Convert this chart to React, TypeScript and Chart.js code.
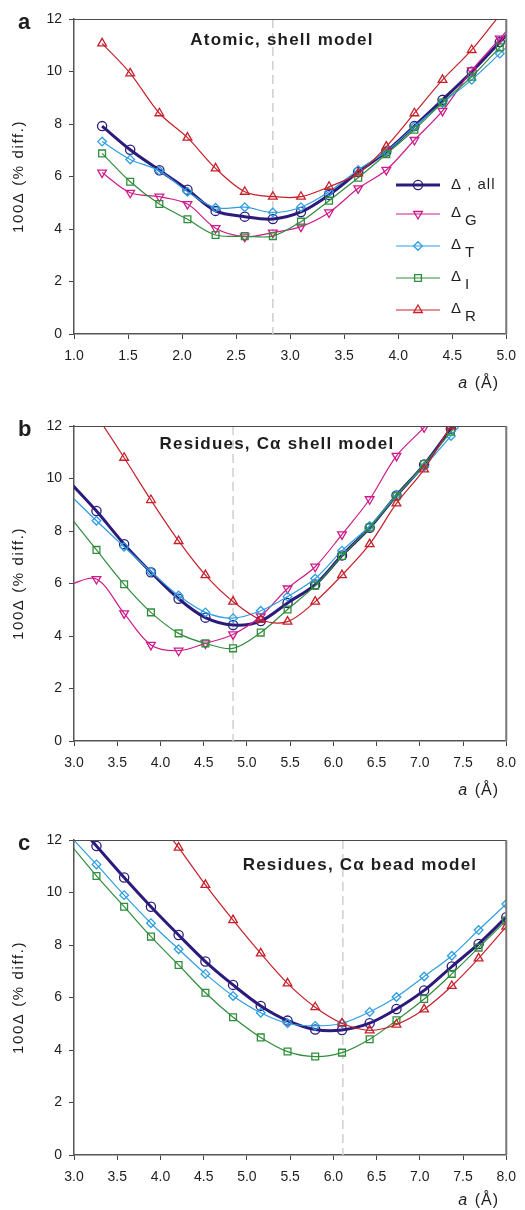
import React, { useEffect, useRef } from 'react';
import { Chart, registerables } from 'chart.js';

Chart.register(...registerables);

// ---------- Panel a: Atomic, shell model ----------
const A_X = [1.26, 1.52, 1.79, 2.05, 2.31, 2.58, 2.84, 3.10, 3.36, 3.63, 3.89, 4.15, 4.41, 4.68, 4.94, 5.20];
const A_ALL = [7.92, 7.02, 6.24, 5.50, 4.69, 4.47, 4.38, 4.65, 5.30, 6.17, 6.95, 7.92, 8.92, 9.99, 11.12, 12.3];
const A_G = [6.15, 5.38, 5.23, 4.95, 4.03, 3.71, 3.86, 4.09, 4.63, 5.55, 6.25, 7.39, 8.50, 10.04, 11.25, 12.5];
const A_T = [7.33, 6.65, 6.22, 5.42, 4.81, 4.83, 4.63, 4.83, 5.42, 6.25, 6.95, 7.90, 8.80, 9.68, 10.68, 11.7];
const A_I = [6.88, 5.80, 4.95, 4.37, 3.77, 3.73, 3.73, 4.28, 5.08, 5.95, 6.85, 7.78, 8.82, 9.80, 10.92, 12.0];
const A_R = [11.07, 9.93, 8.41, 7.48, 6.31, 5.42, 5.23, 5.23, 5.61, 6.12, 7.14, 8.41, 9.68, 10.82, 12.15, 13.5];
const A_DASH = 2.84;

// ---------- Panel b: Residues, C-alpha shell model ----------
const B_X = [2.94, 3.26, 3.58, 3.89, 4.21, 4.52, 4.84, 5.16, 5.47, 5.79, 6.10, 6.42, 6.73, 7.05, 7.36, 7.68];
const B_ALL = [9.90, 8.76, 7.50, 6.43, 5.42, 4.70, 4.42, 4.57, 5.26, 5.96, 7.07, 8.12, 9.35, 10.53, 11.90, 13.3];
const B_G = [5.95, 6.17, 4.86, 3.66, 3.44, 3.72, 4.06, 4.75, 5.81, 6.64, 7.87, 9.21, 10.86, 11.95, 13.1, 14.3];
const B_T = [9.42, 8.39, 7.40, 6.45, 5.54, 4.90, 4.68, 4.96, 5.50, 6.19, 7.25, 8.19, 9.37, 10.45, 11.62, 12.9];
const B_I = [8.60, 7.28, 5.97, 4.90, 4.10, 3.72, 3.53, 4.13, 5.01, 5.92, 7.05, 8.13, 9.33, 10.55, 11.78, 13.1];
const B_R = [13.9, 12.4, 10.79, 9.18, 7.62, 6.32, 5.31, 4.62, 4.55, 5.31, 6.32, 7.50, 9.05, 10.35, 12.0, 13.6];
const B_DASH = 4.84;

// ---------- Panel c: Residues, C-alpha bead model ----------
const C_X = [2.94, 3.26, 3.58, 3.89, 4.21, 4.52, 4.84, 5.16, 5.47, 5.79, 6.10, 6.42, 6.73, 7.05, 7.37, 7.68, 8.00];
const C_ALL = [12.97, 11.77, 10.57, 9.46, 8.38, 7.37, 6.48, 5.68, 5.12, 4.78, 4.76, 5.02, 5.56, 6.27, 7.18, 8.04, 9.06];
const C_T = [12.2, 11.07, 9.90, 8.83, 7.84, 6.90, 6.06, 5.42, 5.02, 4.92, 5.02, 5.45, 6.02, 6.80, 7.59, 8.57, 9.56];
const C_I = [11.9, 10.63, 9.46, 8.32, 7.24, 6.18, 5.25, 4.48, 3.94, 3.75, 3.90, 4.41, 5.13, 5.94, 6.90, 7.90, 8.93];
const C_R = [null, null, null, 13.1, 11.71, 10.29, 8.95, 7.68, 6.54, 5.63, 5.02, 4.75, 4.97, 5.55, 6.44, 7.49, 8.70];
const C_DASH = 6.11;

const Y_TICKS = [0, 2, 4, 6, 8, 10, 12];
const LEGEND_KEYS = ['all', 'G', 'T', 'I', 'R'];
const LEGEND_SUBS = ['', 'G', 'T', 'I', 'R'];

const FONT = '"Liberation Sans", Arial, Helvetica, sans-serif';
const TEXT = '#1e1e1e';

const STYLE: Record<string, any> = {
  all: { color: '#2b1c7c', width: 3, point: 'circle', r: 4.6, rot: 0 },
  G: { color: '#cf1a8b', width: 1.2, point: 'triangle', r: 5, rot: 180 },
  T: { color: '#2e9ee0', width: 1.2, point: 'rectRot', r: 4.3, rot: 0 },
  I: { color: '#2f8d3b', width: 1.2, point: 'rect', r: 4.8, rot: 0 },
  R: { color: '#c8202a', width: 1.2, point: 'triangle', r: 5, rot: 0 },
};

function drawMarker(ctx: CanvasRenderingContext2D, kind: string, x: number, y: number, r: number, rot: number) {
  ctx.beginPath();
  if (kind === 'circle') {
    ctx.arc(x, y, r, 0, Math.PI * 2);
  } else if (kind === 'triangle') {
    for (let k = 0; k < 3; k++) {
      const a = (rot * Math.PI) / 180 + (k * 2 * Math.PI) / 3;
      const px = x + Math.sin(a) * r;
      const py = y - Math.cos(a) * r;
      if (k === 0) ctx.moveTo(px, py);
      else ctx.lineTo(px, py);
    }
    ctx.closePath();
  } else if (kind === 'rectRot') {
    ctx.moveTo(x - r, y);
    ctx.lineTo(x, y - r);
    ctx.lineTo(x + r, y);
    ctx.lineTo(x, y + r);
    ctx.closePath();
  } else {
    const s = r * Math.SQRT1_2;
    ctx.rect(x - s, y - s, 2 * s, 2 * s);
  }
  ctx.stroke();
}

type Panel = {
  xs: number[];
  series: { key: string; ys: (number | null)[] }[];
  xMin: number;
  xMax: number;
  dash: number;
  title: string;
  letter: string;
  top: number;
  height: number;
  padTop: number;
  xAxisH: number;
  titleX: number;
  titleDy: number;
  xTitleDy: number;
  legend: boolean;
};

const PANELS: Panel[] = [
  {
    xs: A_X,
    series: [
      { key: 'R', ys: A_R },
      { key: 'I', ys: A_I },
      { key: 'T', ys: A_T },
      { key: 'G', ys: A_G },
      { key: 'all', ys: A_ALL },
    ],
    xMin: 1, xMax: 5, dash: A_DASH,
    title: 'Atomic, shell model', letter: 'a',
    top: 0, height: 400, padTop: 19, xAxisH: 66,
    titleX: 282, titleDy: 21, xTitleDy: 54, legend: true,
  },
  {
    xs: B_X,
    series: [
      { key: 'R', ys: B_R },
      { key: 'I', ys: B_I },
      { key: 'T', ys: B_T },
      { key: 'G', ys: B_G },
      { key: 'all', ys: B_ALL },
    ],
    xMin: 3, xMax: 8, dash: B_DASH,
    title: 'Residues, C\u03b1 shell model', letter: 'b',
    top: 400, height: 410, padTop: 26, xAxisH: 69,
    titleX: 277, titleDy: 18, xTitleDy: 54, legend: false,
  },
  {
    xs: C_X,
    series: [
      { key: 'R', ys: C_R },
      { key: 'I', ys: C_I },
      { key: 'T', ys: C_T },
      { key: 'all', ys: C_ALL },
    ],
    xMin: 3, xMax: 8, dash: C_DASH,
    title: 'Residues, C\u03b1 bead model', letter: 'c',
    top: 810, height: 400, padTop: 30, xAxisH: 55,
    titleX: 360, titleDy: 25, xTitleDy: 50, legend: false,
  },
];

function overlay(p: Panel) {
  return {
    id: 'overlay',
    beforeDatasetsDraw(chart: any) {
      const { ctx, chartArea: ca, scales } = chart;
      const x = scales.x.getPixelForValue(p.dash);
      ctx.save();
      ctx.strokeStyle = '#d2d2d2';
      ctx.lineWidth = 1.6;
      ctx.setLineDash([9, 5]);
      ctx.beginPath();
      ctx.moveTo(x, ca.top);
      ctx.lineTo(x, ca.bottom);
      ctx.stroke();
      ctx.restore();
    },
    afterDraw(chart: any) {
      const { ctx, chartArea: ca } = chart;
      ctx.save();
      // frame: top and right
      ctx.strokeStyle = '#4a4a4a';
      ctx.lineWidth = 1;
      ctx.beginPath();
      ctx.moveTo(ca.left, ca.top + 0.5);
      ctx.lineTo(ca.right, ca.top + 0.5);
      ctx.stroke();
      ctx.strokeStyle = '#777';
      ctx.lineWidth = 2;
      ctx.beginPath();
      ctx.moveTo(ca.right, ca.top);
      ctx.lineTo(ca.right, ca.bottom);
      ctx.stroke();

      ctx.fillStyle = TEXT;
      // panel title
      ctx.font = `bold 17px ${FONT}`;
      (ctx as any).letterSpacing = '1.2px';
      ctx.textAlign = 'center';
      ctx.textBaseline = 'middle';
      ctx.fillText(p.title, p.titleX, ca.top + p.titleDy);

      // panel letter
      (ctx as any).letterSpacing = '0px';
      ctx.font = `bold 22px ${FONT}`;
      ctx.textAlign = 'left';
      ctx.textBaseline = 'alphabetic';
      ctx.fillText(p.letter, 18, ca.top + 10);

      // y title
      ctx.save();
      ctx.translate(19, (ca.top + ca.bottom) / 2);
      ctx.rotate(-Math.PI / 2);
      ctx.font = `15px ${FONT}`;
      (ctx as any).letterSpacing = '1.6px';
      ctx.textAlign = 'center';
      ctx.textBaseline = 'middle';
      ctx.fillText('100\u0394 (% diff.)', 0, 0);
      ctx.restore();

      // x title
      ctx.font = `16px ${FONT}`;
      (ctx as any).letterSpacing = '1px';
      ctx.textAlign = 'right';
      ctx.textBaseline = 'alphabetic';
      const rest = ' (\u00c5)';
      const yb = ca.bottom + p.xTitleDy;
      ctx.fillText(rest, 499, yb);
      const w = ctx.measureText(rest).width;
      ctx.font = `italic 16px ${FONT}`;
      ctx.fillText('a', 499 - w - 1, yb);

      // legend
      if (p.legend) {
        const rows = [166, 195, 227, 259, 291];
        LEGEND_KEYS.forEach((k, i) => {
          const s = STYLE[k];
          const y = ca.top + rows[i];
          ctx.strokeStyle = s.color;
          ctx.lineWidth = s.width;
          ctx.beginPath();
          ctx.moveTo(396, y);
          ctx.lineTo(440, y);
          ctx.stroke();
          ctx.lineWidth = 1.3;
          drawMarker(ctx, s.point, 418, y, s.r, s.rot);
          ctx.fillStyle = TEXT;
          ctx.textAlign = 'left';
          ctx.textBaseline = 'middle';
          ctx.font = `15px ${FONT}`;
          (ctx as any).letterSpacing = '1px';
          if (LEGEND_SUBS[i] === '') {
            ctx.fillText('\u0394 , all', 451, y);
          } else {
            ctx.fillText('\u0394', 451, y - 1);
            ctx.fillText(LEGEND_SUBS[i], 465, y + 7);
          }
        });
      }
      ctx.restore();
    },
  };
}

function buildConfig(p: Panel): any {
  const datasets = p.series.map((s) => {
    const st = STYLE[s.key];
    return {
      label: s.key,
      data: p.xs.map((x, i) => ({ x, y: s.ys[i] })),
      borderColor: st.color,
      borderWidth: st.width,
      pointStyle: st.point,
      pointRotation: st.rot,
      pointRadius: st.r,
      pointBorderWidth: 1.3,
      pointBorderColor: st.color,
      pointBackgroundColor: 'rgba(255,255,255,0)',
      tension: 0.33,
      fill: false,
      spanGaps: false,
    };
  });
  return {
    type: 'line',
    data: { datasets },
    options: {
      responsive: false,
      animation: false,
      events: [],
      layout: { padding: { top: p.padTop, right: 16, left: 0, bottom: 0 } },
      plugins: { legend: { display: false }, tooltip: { enabled: false }, title: { display: false } },
      scales: {
        x: {
          type: 'linear',
          min: p.xMin,
          max: p.xMax,
          afterFit: (sc: any) => { sc.height = p.xAxisH; },
          afterBuildTicks: (sc: any) => {
            const t = [];
            for (let v = p.xMin; v <= p.xMax + 1e-9; v += 0.5) t.push({ value: Math.round(v * 10) / 10 });
            sc.ticks = t;
          },
          ticks: {
            autoSkip: false,
            maxRotation: 0,
            padding: 9,
            color: TEXT,
            font: { family: FONT, size: 14 },
            callback: (v: number) => Number(v).toFixed(1),
          },
          grid: { drawOnChartArea: false, drawTicks: true, tickLength: 5, color: '#444', lineWidth: 1 },
          border: { display: true, color: '#555', width: 1.5 },
        },
        y: {
          type: 'linear',
          min: 0,
          max: 12,
          afterFit: (sc: any) => { sc.width = 74; },
          afterBuildTicks: (sc: any) => { sc.ticks = Y_TICKS.map((v) => ({ value: v })); },
          ticks: {
            padding: 7,
            color: TEXT,
            font: { family: FONT, size: 14 },
          },
          grid: { drawOnChartArea: false, drawTicks: true, tickLength: 5, color: '#444', lineWidth: 1 },
          border: { display: true, color: '#555', width: 1.5 },
        },
      },
    },
    plugins: [overlay(p)],
  };
}

function PanelChart({ p }: { p: Panel }) {
  const ref = useRef<HTMLCanvasElement>(null);
  useEffect(() => {
    const chart = new Chart(ref.current as HTMLCanvasElement, buildConfig(p));
    return () => chart.destroy();
  }, [p]);
  return (
    <div style={{ position: 'absolute', left: 0, top: p.top, width: 525, height: p.height }}>
      <canvas ref={ref} width={525} height={p.height} style={{ display: 'block', width: 525, height: p.height }} />
    </div>
  );
}

export default function App() {
  return (
    <div style={{ position: 'absolute', left: 0, top: 0, width: 525, height: 1210, background: '#fff' }}>
      {PANELS.map((p) => (
        <PanelChart key={p.letter} p={p} />
      ))}
    </div>
  );
}
